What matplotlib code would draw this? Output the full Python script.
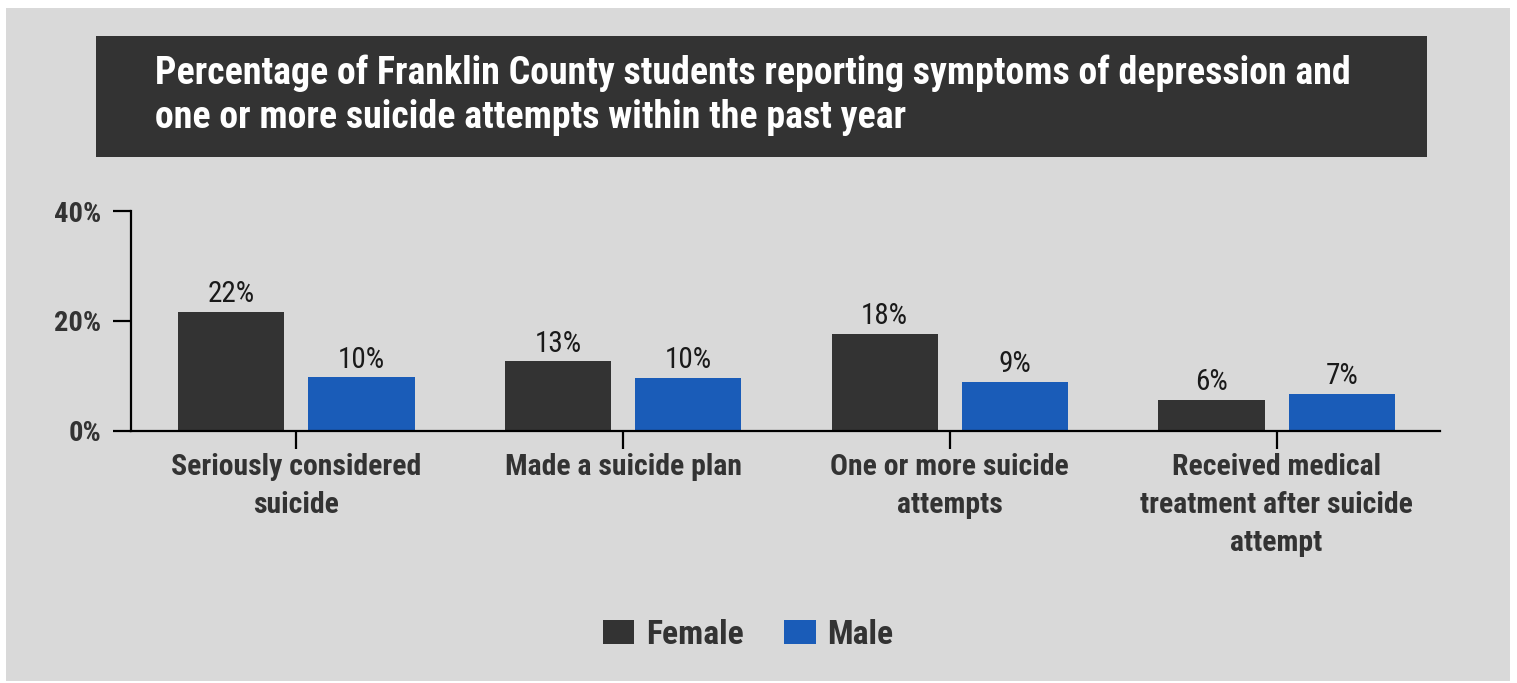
import matplotlib
matplotlib.use("Agg")
import matplotlib.pyplot as plt
from matplotlib.patches import Rectangle
import numpy as np

# ---- data ----
categories = ["Seriously considered\nsuicide", "Made a suicide plan",
              "One or more suicide\nattempts",
              "Received medical\ntreatment after suicide\nattempt"]
female = [21.6, 12.6, 17.6, 5.6]
male = [9.7, 9.6, 8.9, 6.7]
female_labels = ["22%", "13%", "18%", "6%"]
male_labels = ["10%", "10%", "9%", "7%"]
yticks = [0, 20, 40]
ytick_labels = ["0%", "20%", "40%"]
title_lines = ["Percentage of Franklin County students reporting symptoms of depression and",
               "one or more suicide attempts within the past year"]
series_names = ["Female", "Male"]

C_F = "#333333"
C_M = "#1a5cb8"
BG = "#d9d9d9"
TXT = "#333333"
FONT = ["Roboto Condensed", "Roboto", "DejaVu Sans"]

W, H = 1517, 683
fig = plt.figure(figsize=(W / 100, H / 100), dpi=100)
fig.patch.set_facecolor("white")

def fx(px):
    return px / W

def fy(py):
    return 1 - py / H

# gray panel
fig.patches.append(Rectangle((fx(6), fy(681)), fx(1510) - fx(6), fy(8) - fy(681),
                             transform=fig.transFigure, facecolor=BG, edgecolor="none", zorder=-2))
# title box
fig.patches.append(Rectangle((fx(96), fy(157)), fx(1427) - fx(96), fy(36) - fy(157),
                             transform=fig.transFigure, facecolor="#333333", edgecolor="none", zorder=-1))
fig.text(fx(155), fy(83.5), title_lines[0], color="white", fontsize=27.3,
         fontweight="bold", family=FONT, va="baseline", ha="left", zorder=2)
fig.text(fx(155), fy(127.5), title_lines[1], color="white", fontsize=27.3,
         fontweight="bold", family=FONT, va="baseline", ha="left", zorder=2)

ax = fig.add_axes([fx(130.7), fy(430.5), fx(1440) - fx(130.7), fy(211) - fy(430.5)])
ax.set_zorder(5)
ax.set_facecolor("none")
x = np.arange(len(categories))
off = 0.1995
bw = 0.325
bf = ax.bar(x - off, female, bw, color=C_F, label=series_names[0], zorder=2)
bm = ax.bar(x + off, male, bw, color=C_M, label=series_names[1], zorder=2)

for bars, labs in ((bf, female_labels), (bm, male_labels)):
    for b, lab in zip(bars, labs):
        ax.annotate(lab, (b.get_x() + b.get_width() / 2, b.get_height()),
                    xytext=(0, 2.5), textcoords="offset points", ha="center", va="bottom",
                    fontsize=21, family=FONT, color="#1a1a1a", annotation_clip=False)

ax.set_xlim(-0.507, 3.5)
ax.set_ylim(0, 40)
ax.set_yticks(yticks)
ax.set_yticklabels(ytick_labels, fontsize=20.5, fontweight="bold", family=FONT, color=TXT)
ax.set_xticks(x)
ax.set_xticklabels(categories, fontsize=21.4, fontweight="bold", family=FONT, color=TXT,
                   linespacing=1.46)
for s in ["top", "right"]:
    ax.spines[s].set_visible(False)
for s in ["left", "bottom"]:
    ax.spines[s].set_linewidth(1.6)
    ax.spines[s].set_color("black")
ax.tick_params(axis="y", length=13, width=1.6, pad=8)
ax.tick_params(axis="x", length=13, width=1.6, pad=3)

leg = ax.legend(loc="center", bbox_to_anchor=(fx(748), fy(635)), bbox_transform=fig.transFigure,
                ncol=2, frameon=False, prop={"family": FONT, "weight": "bold", "size": 24.3},
                handlelength=0.94, handleheight=0.71, handletextpad=0.34, columnspacing=1.2)
for t in leg.get_texts():
    t.set_color(TXT)

fig.savefig("out.png", dpi=100, facecolor=fig.get_facecolor())
